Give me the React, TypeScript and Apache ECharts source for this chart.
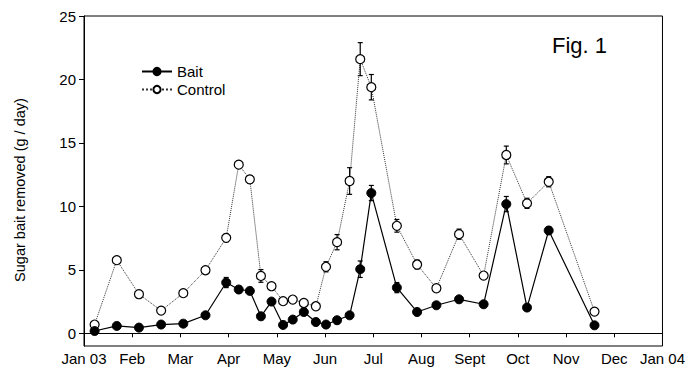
import React, { useEffect, useRef } from "react";
import * as echarts from "echarts";

// x positions in months since Jan 03 (0 = Jan 03, 12 = Jan 04)
const months = [0.22, 0.68, 1.14, 1.6, 2.06, 2.52, 2.95, 3.21, 3.44, 3.67, 3.89, 4.13, 4.33, 4.56, 4.81, 5.02, 5.25, 5.51, 5.73, 5.96, 6.49, 6.91, 7.31, 7.78, 8.29, 8.76, 9.19, 9.64, 10.59];
const bait = [0.18, 0.58, 0.45, 0.69, 0.76, 1.42, 4.0, 3.45, 3.34, 1.34, 2.5, 0.66, 1.08, 1.68, 0.89, 0.69, 1.03, 1.42, 5.05, 11.05, 3.6, 1.68, 2.21, 2.68, 2.29, 10.18, 2.03, 8.1, 0.63];
const baitErr = [0.1, 0.1, 0.1, 0.1, 0.1, 0.15, 0.4, 0.2, 0.2, 0.2, 0.2, 0.1, 0.1, 0.2, 0.1, 0.1, 0.1, 0.2, 0.65, 0.6, 0.4, 0.15, 0.15, 0.2, 0.15, 0.6, 0.2, 0.3, 0.1];
const control = [0.69, 5.76, 3.08, 1.79, 3.16, 4.97, 7.52, 13.29, 12.13, 4.52, 3.71, 2.53, 2.66, 2.39, 2.13, 5.24, 7.18, 12.0, 21.6, 19.39, 8.47, 5.42, 3.55, 7.81, 4.55, 14.05, 10.24, 11.94, 1.71];
const controlErr = [0.1, 0.2, 0.1, 0.1, 0.1, 0.1, 0.3, 0.2, 0.3, 0.5, 0.15, 0.1, 0.1, 0.1, 0.1, 0.4, 0.6, 1.05, 1.3, 1.0, 0.5, 0.35, 0.2, 0.4, 0.2, 0.7, 0.4, 0.4, 0.1];
const monthLabels = ["Jan 03", "Feb", "Mar", "Apr", "May", "Jun", "Jul", "Aug", "Sept", "Oct", "Nov", "Dec", "Jan 04"];
const yTicks = [0, 5, 10, 15, 20, 25];
const yTitle = "Sugar bait removed (g / day)";

const FONT = "'Liberation Sans', Arial, sans-serif";

function errorSeries(vals: number[], errs: number[], name: string) {
  return {
    type: "custom",
    name: name + " err",
    z: 1,
    silent: true,
    encode: { x: 0, y: [1, 2] },
    data: months.map((m, i) => [m, vals[i] - errs[i], vals[i] + errs[i]]),
    renderItem: (params: any, api: any) => {
      const x = api.value(0);
      const lo = api.coord([x, api.value(1)]);
      const hi = api.coord([x, api.value(2)]);
      const w = 2.5;
      const st = { stroke: "#000", lineWidth: 1.2 };
      return {
        type: "group",
        children: [
          { type: "line", shape: { x1: lo[0], y1: lo[1], x2: hi[0], y2: hi[1] }, style: st },
          { type: "line", shape: { x1: hi[0] - w, y1: hi[1], x2: hi[0] + w, y2: hi[1] }, style: st },
          { type: "line", shape: { x1: lo[0] - w, y1: lo[1], x2: lo[0] + w, y2: lo[1] }, style: st },
        ],
      };
    },
  };
}

export default function App() {
  const ref = useRef<HTMLDivElement>(null);
  useEffect(() => {
    if (!ref.current) return;
    const chart = echarts.init(ref.current, undefined, { renderer: "svg" });
    chart.setOption({
      animation: false,
      backgroundColor: "#fff",
      textStyle: { fontFamily: FONT },
      grid: { left: 84, right: 24, top: 16, bottom: 29, show: true, borderColor: "#000", borderWidth: 1, backgroundColor: "transparent" },
      legend: {
        orient: "vertical",
        left: 141,
        top: 64,
        padding: 0,
        itemWidth: 30,
        itemHeight: 9,
        itemGap: 3,
        textStyle: { fontSize: 15, color: "#000", fontFamily: FONT },
        data: ["Bait", "Control"],
      },
      xAxis: {
        type: "value",
        min: 0,
        max: 12,
        interval: 1,
        axisLine: { lineStyle: { color: "#000", width: 1 } },
        axisTick: { show: true, length: 4, lineStyle: { color: "#000" } },
        axisLabel: { color: "#000", fontSize: 15, margin: 5, formatter: (v: number) => monthLabels[Math.round(v)] ?? "" },
        splitLine: { show: false },
      },
      yAxis: {
        type: "value",
        min: -1,
        max: 25,
        axisLine: { show: true, lineStyle: { color: "#000", width: 1 } },
        axisTick: { show: true, length: 5, customValues: yTicks, lineStyle: { color: "#000" } },
        axisLabel: { color: "#000", fontSize: 15, margin: 8, customValues: yTicks },
        splitLine: { show: false },
      },
      graphic: [
        { type: "text", left: 552, top: 34, style: { text: "Fig. 1", fontSize: 22, fill: "#000", fontFamily: FONT } },
        {
          type: "text",
          x: 20,
          y: 190,
          rotation: Math.PI / 2,
          style: { text: yTitle, fontSize: 14.5, fill: "#000", fontFamily: FONT, align: "center", verticalAlign: "middle" },
        },
      ],
      series: [
        errorSeries(control, controlErr, "Control"),
        errorSeries(bait, baitErr, "Bait"),
        {
          type: "line",
          name: "Control",
          z: 2,
          data: months.map((m, i) => [m, control[i]]),
          symbol: "circle",
          symbolSize: 9,
          lineStyle: { color: "#333", width: 1, type: "dotted" },
          itemStyle: { color: "#fff", borderColor: "#000", borderWidth: 1.2 },
        },
        {
          type: "line",
          name: "Bait",
          z: 3,
          data: months.map((m, i) => [m, bait[i]]),
          symbol: "circle",
          symbolSize: 9,
          lineStyle: { color: "#000", width: 1.2 },
          itemStyle: { color: "#000", borderColor: "#000", borderWidth: 1 },
        },
      ],
    });
    return () => chart.dispose();
  }, []);
  return <div ref={ref} style={{ width: 688, height: 375, position: "absolute", left: 0, top: 0 }} />;
}
